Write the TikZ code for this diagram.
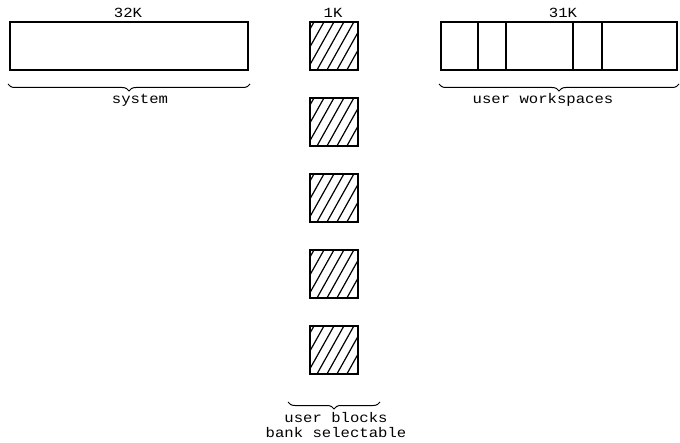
\documentclass[tikz,border=0pt]{standalone}
\usepackage{fontspec}
\newfontfamily\typefont[FakeStretch=1.12]{Liberation Mono}
\usetikzlibrary{decorations.pathreplacing}

\begin{document}
\begin{tikzpicture}[x=1bp, y=-1bp, line width=1.2bp,
    mem/.style={draw, minimum height=48bp, inner sep=0pt, outer sep=0pt},
    lbl/.style={font=\typefont\fontsize{14}{15}\selectfont, inner sep=0pt},
    brace/.style={decorate, decoration={brace, amplitude=7bp}, line width=1bp}]
    \useasboundingbox (0,0) rectangle (680,443);

    % --- SYSTEM (links) ---
    \node[mem, minimum width=238bp, anchor=north west] (sys) at (10,22) {};
    \node[lbl] (k32) at (128,13) {32K};
    \draw[brace] ([shift={(2,14)}]sys.south east) -- ([shift={(-2,14)}]sys.south west);
    \node[lbl] (system) at (140,100) {system};

    % --- USER BLOCKS (midden) ---
    \node[lbl] (k1) at (333,13) {1K};
    \foreach \i/\y in {1/22, 2/98, 3/174, 4/250, 5/326} {
        \node[mem, minimum width=48bp, anchor=north west] (blk\i) at (310,\y) {};
        % arcering
        \begin{scope}
            \clip (blk\i.north west) rectangle (blk\i.south east);
            \foreach \d in {-33,-23,...,50} {
                \draw[line width=1.2bp] ([xshift=\d]blk\i.south west) -- ([xshift=\d+27]blk\i.north west);
            }
        \end{scope}
        \draw (blk\i.north west) rectangle (blk\i.south east);
    }
    \draw[brace] ([shift={(22,28)}]blk5.south east) -- ([shift={(-22,28)}]blk5.south west);
    \node[lbl] (ublocks) at (336,418) {user blocks};
    \node[lbl] (bank) at (336,433) {bank selectable};

    % --- USER WORKSPACES (rechts) ---
    \node[mem, minimum width=236bp, anchor=north west] (usr) at (441,22) {};
    \foreach \x in {478, 506, 573, 602} {
        \draw (\x,0 |- usr.north) -- (\x,0 |- usr.south);
    }
    \node[lbl] (k31) at (563,13) {31K};
    \draw[brace] ([shift={(2,14)}]usr.south east) -- ([shift={(-2,14)}]usr.south west);
    \node[lbl] (workspaces) at (543,100) {user workspaces};
\end{tikzpicture}
\end{document}
